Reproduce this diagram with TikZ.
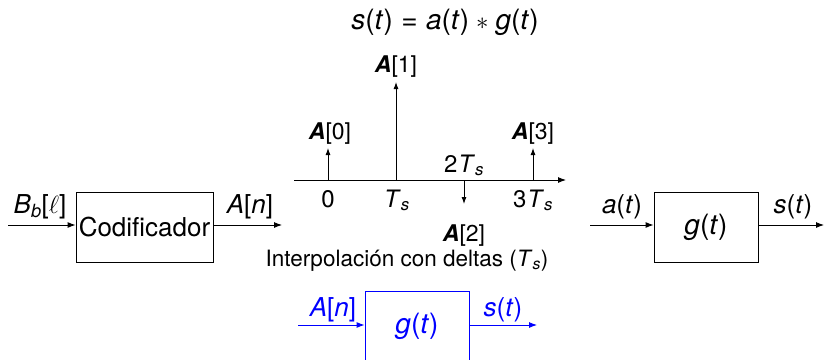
\documentclass[tikz,border=0pt]{standalone}
\usepackage{fontspec}
\setmainfont{TeX Gyre Heros}
\usetikzlibrary{arrows.meta,positioning,calc}
\definecolor{bdBlue}{HTML}{0000FF}
\newcommand{\mv}[1]{\textit{#1}}
\newcommand{\bA}{\textbf{\textit{A}}}
\newcommand{\Ts}{\mv{T}\textsubscript{\textit{s}}}
\newcommand{\fs}[1]{\fontsize{#1}{#1}\selectfont}

\begin{document}
\begin{tikzpicture}[x=1pt, y=-1pt,
  every node/.style={font=\fs{26}, inner sep=0pt},
  blk/.style={draw, line width=0.9pt, minimum height=70pt, inner sep=0pt, font=\fs{28}},
  sig/.style={line width=0.9pt, -{Latex[length=8pt,width=6pt]}},
  stem/.style={line width=0.9pt, -{Latex[length=7pt,width=5pt]}},
  lab/.style={anchor=base},
  amp/.style={anchor=base, font=\fs{23}},
  tick/.style={anchor=base, font=\fs{24}},
]
\useasboundingbox (0,0) rectangle (825,359);

\node[lab, font=\fs{28}] (titl) at (445,29) {\mv{s}(\mv{t})\hspace{0.3em}=\hspace{0.3em}\mv{a}(\mv{t})\hspace{0.25em}$\ast$\hspace{0.25em}\mv{g}(\mv{t})};

% coder chain
\node[blk, minimum width=137pt, font=\fs{26}] (cod) at (144.5,227) {Codificador};
\coordinate (bin) at (8,225);
\coordinate (bout) at (282,225);
\draw[sig] (bin) -- (bin -| cod.west);
\draw[sig] (bout -| cod.east) -- (bout);
\node[lab] (lbb) at (40,213) {\mv{B}\textsubscript{\textit{b}}[$\ell$]};
\node[lab] (lan) at (250,213) {\mv{A}[\mv{n}]};

% delta train
\coordinate (ax0) at (294,180);
\coordinate (ax1) at (566,180);
\draw[sig] (ax0) -- (ax1);
\foreach \n/\xx/\yy in {0/328/148, 1/396/82, 2/464/204, 3/533/148} {
  \coordinate (t\n) at (\xx,180);
  \coordinate (p\n) at (\xx,\yy);
  \draw[stem] (t\n) -- (p\n);
}
\node[amp] (am0) at (330,139) {\bA[0]};
\node[amp] (am1) at (396,72) {\bA[1]};
\node[amp] (am2) at (464,241) {\bA[2]};
\node[amp] (am3) at (533,139) {\bA[3]};
\node[tick] (k0) at (328,207) {0};
\node[tick] (k1) at (397,207) {\Ts};
\node[tick] (k2) at (464,172) {2\kern1pt\Ts};
\node[tick] (k3) at (533,207) {3\kern1pt\Ts};
\node[lab, font=\fs{22.5}] (intp) at (407,266) {Interpolación con deltas (\Ts)};

% shaping filter
\node[blk, minimum width=104pt] (gf) at (706,227) {\mv{g}(\mv{t})};
\coordinate (gin) at (590,225);
\coordinate (gout) at (824,225);
\draw[sig] (gin) -- (gin -| gf.west);
\draw[sig] (gout -| gf.east) -- (gout);
\node[lab] (lat) at (622,213) {\mv{a}(\mv{t})};
\node[lab] (lst) at (793,213) {\mv{s}(\mv{t})};

% equivalent
\begin{scope}[bdBlue]
  \node[blk, draw=bdBlue, text=bdBlue, minimum width=104pt] (ge) at (417,326) {\mv{g}(\mv{t})};
  \coordinate (ein) at (298,325);
  \coordinate (eout) at (537,325);
  \draw[sig] (ein) -- (ein -| ge.west);
  \draw[sig] (eout -| ge.east) -- (eout);
  \node[lab, text=bdBlue] (ean) at (333,316) {\mv{A}[\mv{n}]};
  \node[lab, text=bdBlue] (est) at (503,316) {\mv{s}(\mv{t})};
\end{scope}

\end{tikzpicture}
\end{document}
